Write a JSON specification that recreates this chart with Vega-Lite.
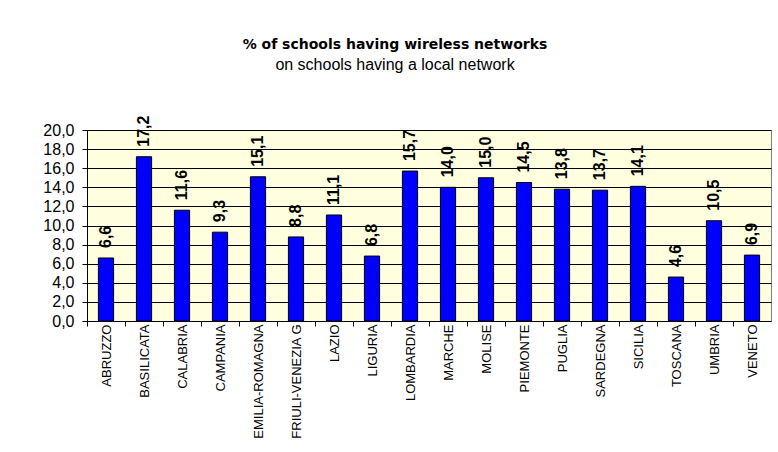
{
  "$schema": "https://vega.github.io/schema/vega-lite/v6.json",
  "autosize": "none",
  "width": 684,
  "height": 191,
  "padding": {"left": 87, "top": 130, "right": 7, "bottom": 131},
  "background": "#FFFFFF",
  "title": {
    "text": "% of schools having wireless networks",
    "subtitle": "on schools having a local network",
    "anchor": "middle",
    "frame": "group",
    "dx": -34,
    "offset": 43,
    "font": "DejaVu Sans",
    "fontSize": 14,
    "fontWeight": "bold",
    "color": "#000000",
    "subtitleFont": "Liberation Sans",
    "subtitleFontSize": 16,
    "subtitleColor": "#000000",
    "subtitlePadding": 5
  },
  "data": {
    "values": [
      {"region": "ABRUZZO", "pct": 6.6},
      {"region": "BASILICATA", "pct": 17.2},
      {"region": "CALABRIA", "pct": 11.6},
      {"region": "CAMPANIA", "pct": 9.3},
      {"region": "EMILIA-ROMAGNA", "pct": 15.1},
      {"region": "FRIULI-VENEZIA G", "pct": 8.8},
      {"region": "LAZIO", "pct": 11.1},
      {"region": "LIGURIA", "pct": 6.8},
      {"region": "LOMBARDIA", "pct": 15.7},
      {"region": "MARCHE", "pct": 14.0},
      {"region": "MOLISE", "pct": 15.0},
      {"region": "PIEMONTE", "pct": 14.5},
      {"region": "PUGLIA", "pct": 13.8},
      {"region": "SARDEGNA", "pct": 13.7},
      {"region": "SICILIA", "pct": 14.1},
      {"region": "TOSCANA", "pct": 4.6},
      {"region": "UMBRIA", "pct": 10.5},
      {"region": "VENETO", "pct": 6.9}
    ]
  },
  "encoding": {
    "x": {
      "field": "region",
      "type": "nominal",
      "sort": null,
      "scale": {"paddingInner": 0.6, "paddingOuter": 0.3},
      "axis": {
        "title": null,
        "labelAngle": -90,
        "labelFont": "Liberation Sans",
        "labelFontSize": 13,
        "labelColor": "#000000",
        "labelPadding": -2,
        "tickOffset": -19,
        "labelOffset": 19,
        "tickSize": 5,
        "tickColor": "#000000",
        "domainColor": "#000000",
        "grid": false
      }
    },
    "y": {
      "field": "pct",
      "type": "quantitative",
      "scale": {"domain": [0, 20], "nice": false},
      "axis": {
        "title": null,
        "values": [0, 2, 4, 6, 8, 10, 12, 14, 16, 18, 20],
        "format": ".1f",
        "labelFont": "Liberation Sans",
        "labelFontSize": 16,
        "labelColor": "#000000",
        "labelPadding": 8,
        "tickSize": 5,
        "tickColor": "#000000",
        "domainColor": "#000000",
        "grid": true,
        "gridColor": "#000000",
        "gridOpacity": 1,
        "gridWidth": 1
      }
    }
  },
  "layer": [
    {
      "mark": {"type": "bar", "color": "#0000FF", "stroke": "#000000", "strokeWidth": 1}
    },
    {
      "mark": {
        "type": "text",
        "angle": 270,
        "align": "left",
        "baseline": "middle",
        "dx": 10,
        "font": "Liberation Sans",
        "fontSize": 16,
        "fontWeight": "bold",
        "color": "#000000"
      },
      "encoding": {
        "text": {"field": "pct", "type": "quantitative", "format": ".1f"}
      }
    }
  ],
  "config": {
    "locale": {
      "number": {"decimal": ",", "thousands": ".", "grouping": [3], "currency": ["", " €"]}
    },
    "view": {"fill": "#FFFFE0", "stroke": "#808080", "strokeWidth": 1}
  }
}
